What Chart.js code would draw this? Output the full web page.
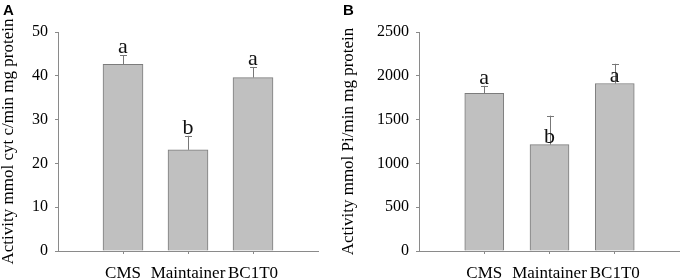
<!DOCTYPE html>
<html>
<head>
<meta charset="utf-8">
<script src="https://cdn.jsdelivr.net/npm/chart.js@4/dist/chart.umd.min.js"></script>
<style>
  html, body { margin: 0; padding: 0; background: #ffffff; }
  .panel { position: absolute; top: 0; width: 340px; height: 280px; }
  #pa { left: 0; }
  #pb { left: 340px; }
</style>
</head>
<body>
<div class="panel" id="pa"><canvas id="ca" width="340" height="280"></canvas></div>
<div class="panel" id="pb"><canvas id="cb" width="340" height="280"></canvas></div>
<script>
// ---- data ----
const categories = ['CMS', 'Maintainer', 'BC1T0'];

const cytMeans = [42.6, 23.1, 39.6];
const cytErrors = [2.1, 3.2, 2.3];
const cytLetters = ['a', 'b', 'a'];
const cytTicks = [0, 10, 20, 30, 40, 50];

const piMeans = [1800, 1215, 1912];
const piErrors = [85, 330, 225];
const piLetters = ['a', 'b', 'a'];
const piTicks = [0, 500, 1000, 1500, 2000, 2500];

// letter sits above the error bar ('err') or just above the bar ('bar')
const cytLetterAnchor = ['err', 'err', 'err'];
const piLetterAnchor = ['err', 'bar', 'bar'];

// ---- styles ----
const SERIF = "'Liberation Serif', 'Times New Roman', serif";
const AXIS = '#8a8a8a';
const BAR_FILL = '#c0c0c0';
const BAR_EDGE = '#7c7c7c';

const annotPlugin = {
  id: 'annot',
  afterDatasetsDraw(chart, args, opts) {
    const { ctx } = chart;
    const xs = chart.scales.x, ys = chart.scales.y;
    ctx.save();
    opts.means.forEach((m, i) => {
      const x = xs.getPixelForValue(i + 1);
      const yBar = ys.getPixelForValue(m);
      const yErr = ys.getPixelForValue(m + opts.errors[i]);
      ctx.strokeStyle = '#777777';
      ctx.lineWidth = 1;
      ctx.beginPath();
      ctx.moveTo(Math.round(x) + 0.5, yBar);
      ctx.lineTo(Math.round(x) + 0.5, yErr);
      ctx.moveTo(Math.round(x) - 3, Math.round(yErr) + 0.5);
      ctx.lineTo(Math.round(x) + 4, Math.round(yErr) + 0.5);
      ctx.stroke();
      const base = opts.anchor[i] === 'err' ? yErr : yBar;
      ctx.fillStyle = '#111111';
      ctx.font = '22px ' + SERIF;
      ctx.textAlign = 'center';
      ctx.textBaseline = 'alphabetic';
      ctx.fillText(opts.letters[i], x, base - 2);
    });
    ctx.font = 'bold 15px "Liberation Sans", Arial, sans-serif';
    ctx.fillStyle = '#000000';
    ctx.textAlign = 'left';
    ctx.textBaseline = 'top';
    ctx.fillText(opts.panel, 3, 3);
    ctx.restore();
  }
};

function makeChart(canvasId, means, errors, letters, anchor, ticks, yTitle, yWidth, rightPad, panel, barW) {
  return new Chart(document.getElementById(canvasId), {
    type: 'bar',
    data: {
      datasets: [{
        data: means.map((v, i) => ({ x: i + 1, y: v })),
        backgroundColor: BAR_FILL,
        borderColor: BAR_EDGE,
        borderWidth: 1,
        barThickness: barW
      }]
    },
    options: {
      responsive: false,
      devicePixelRatio: 1,
      animation: false,
      layout: { padding: { left: 0, right: rightPad, top: 32, bottom: 0 } },
      plugins: {
        legend: { display: false },
        tooltip: { enabled: false },
        annot: { means, errors, letters, anchor, panel }
      },
      scales: {
        x: {
          type: 'linear',
          offset: false,
          bounds: 'ticks',
          min: 0,
          max: categories.length + 1,
          afterBuildTicks: (s) => { s.ticks = categories.map((c, i) => ({ value: i + 1 })); },
          afterFit: (s) => { s.height = 29; },
          ticks: {
            autoSkip: false,
            maxRotation: 0,
            padding: 9,
            color: '#000000',
            font: { family: SERIF, size: 17 },
            callback: (v) => categories[v - 1] ?? ''
          },
          grid: { offset: false, drawOnChartArea: false, drawTicks: true, tickLength: 3, color: AXIS },
          border: { display: true, color: AXIS, width: 1 }
        },
        y: {
          min: ticks[0],
          max: ticks[ticks.length - 1],
          afterBuildTicks: (s) => { s.ticks = ticks.map(v => ({ value: v })); },
          afterFit: (s) => { s.width = yWidth; },
          ticks: {
            padding: 7,
            color: '#000000',
            font: { family: SERIF, size: 16 },
            callback: (v) => String(v)
          },
          grid: { drawOnChartArea: false, drawTicks: true, tickLength: 3, color: AXIS },
          border: { display: true, color: AXIS, width: 1 },
          title: {
            display: true,
            text: yTitle,
            color: '#000000',
            font: { family: SERIF, size: 17, lineHeight: 1 },
            padding: { top: 0, bottom: 0 }
          }
        }
      }
    },
    plugins: [annotPlugin]
  });
}

makeChart('ca', cytMeans, cytErrors, cytLetters, cytLetterAnchor, cytTicks,
  'Activity mmol cyt c/min mg protein', 58, 22, 'A', 40);
makeChart('cb', piMeans, piErrors, piLetters, piLetterAnchor, piTicks,
  'Activity mmol Pi/min mg protein', 79, 0, 'B', 39);
</script>
</body>
</html>
